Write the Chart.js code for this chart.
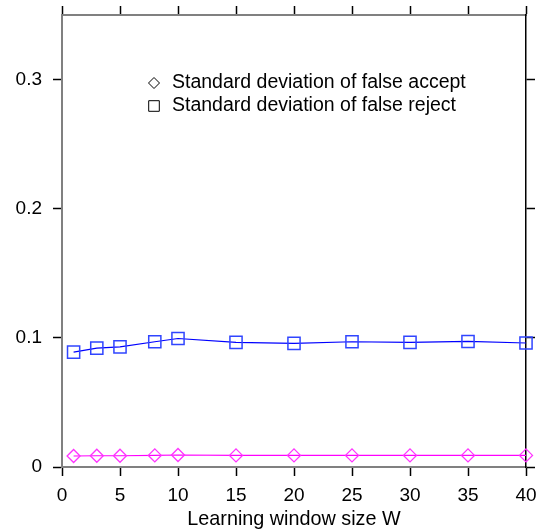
<!DOCTYPE html>
<html>
<head>
<meta charset="utf-8">
<script src="https://cdn.jsdelivr.net/npm/chart.js@4.4.1/dist/chart.umd.min.js"></script>
<style>
  html, body { margin: 0; padding: 0; background: #fff; }
  #wrap { width: 544px; height: 529px; position: relative; }
</style>
</head>
<body>
<div id="wrap"><canvas id="chart"></canvas></div>
<script>
/* Std deviation of false accept / false reject vs learning window size */

const windowSizes = [1, 3, 5, 8, 10, 15, 20, 25, 30, 35, 40];
const falseAcceptStd = [0.0085, 0.0087, 0.0087, 0.009, 0.0093, 0.009, 0.009, 0.009, 0.009, 0.009, 0.009];
const falseRejectStd = [0.089, 0.092, 0.093, 0.097, 0.0995, 0.0965, 0.0957, 0.097, 0.0965, 0.0972, 0.096];
const seriesLabels = ['Standard deviation of false accept', 'Standard deviation of false reject'];
const xTitle = 'Learning window size W';

const FONT = '"Liberation Sans", Arial, Helvetica, sans-serif';
const pts = (ys) => windowSizes.map((x, i) => ({ x, y: ys[i] }));

// fixed axis sizes, and no extra label overflow padding pushed into the layout
const fixSize = (w, h) => (s) => {
  if (w != null) s.width = w;
  if (h != null) s.height = h;
  s.paddingTop = s.paddingBottom = s.paddingLeft = s.paddingRight = 0;
};

/* ---- Plugin: legend drawn inside the plot, black outline symbols ---- */
const insideLegend = {
  id: 'insideLegend',
  afterDraw(chart) {
    const { ctx, chartArea } = chart;
    const styles = ['rectRot', 'rect'];
    const radii = [5.5, 7.5];
    ctx.save();
    ctx.font = '19.5px ' + FONT;
    ctx.textBaseline = 'middle';
    chart.data.datasets.forEach((ds, i) => {
      const y = chartArea.top + 68 + i * 23;
      const x = chartArea.left + 92;
      ctx.strokeStyle = '#000';
      ctx.fillStyle = '#fff';
      ctx.lineWidth = 1;
      Chart.helpers.drawPoint(ctx, { pointStyle: styles[i], radius: radii[i], borderWidth: 1 }, x, y);
      ctx.fillStyle = '#000';
      ctx.fillText(ds.label, x + 18, y);
    });
    ctx.restore();
  },
};

const tickGrid = { drawOnChartArea: false, tickLength: 9, tickColor: '#000', tickWidth: 1.5 };

new Chart(document.getElementById('chart'), {
  type: 'line',
  data: {
    datasets: [
      {
        label: seriesLabels[0], data: pts(falseAcceptStd),
        borderColor: '#ff00ff', borderWidth: 1.2, backgroundColor: 'rgba(0,0,0,0)',
        pointStyle: 'rectRot', pointRadius: 6.5, pointBorderWidth: 1.3,
        pointBorderColor: '#ff33ff', pointBackgroundColor: 'rgba(0,0,0,0)', clip: false,
      },
      {
        label: seriesLabels[1], data: pts(falseRejectStd),
        borderColor: '#0000ff', borderWidth: 1.2, backgroundColor: 'rgba(0,0,0,0)',
        pointStyle: 'rect', pointRadius: 8.6, pointBorderWidth: 1.5,
        pointBorderColor: '#3045ff', pointBackgroundColor: 'rgba(0,0,0,0)', clip: false,
      },
    ],
  },
  options: {
    responsive: true, maintainAspectRatio: false, animation: false,
    layout: { padding: { left: 0, top: 15, right: 18, bottom: 0 } },
    plugins: { legend: { display: false }, tooltip: { enabled: false } },
    scales: {
      x: {
        type: 'linear', position: 'bottom', min: 0, max: 40,
        ticks: { stepSize: 5, color: '#000', font: { size: 19, family: FONT }, padding: 8, maxRotation: 0 },
        grid: tickGrid,
        border: { color: '#808080', width: 2 },
        title: { display: true, text: xTitle, color: '#000', font: { size: 19.8, family: FONT, lineHeight: 1 }, padding: 0 },
        afterFit: fixSize(null, 62),
      },
      x2: {
        type: 'linear', position: 'top', min: 0, max: 40,
        ticks: { stepSize: 5, display: false },
        grid: tickGrid,
        border: { color: '#808080', width: 2 },
        afterFit: fixSize(null, 0),
      },
      y: {
        type: 'linear', position: 'left', min: 0, max: 0.35,
        ticks: { stepSize: 0.1, includeBounds: false, color: '#000', font: { size: 19, family: FONT }, padding: 11 },
        grid: tickGrid,
        border: { color: '#808080', width: 2 },
        afterFit: fixSize(62, null),
      },
      y2: {
        type: 'linear', position: 'right', min: 0, max: 0.35,
        ticks: { stepSize: 0.1, includeBounds: false, display: false },
        grid: tickGrid,
        border: { color: '#000', width: 1.5 },
        afterFit: fixSize(0, null),
      },
    },
  },
  plugins: [insideLegend],
});
</script>
</body>
</html>
